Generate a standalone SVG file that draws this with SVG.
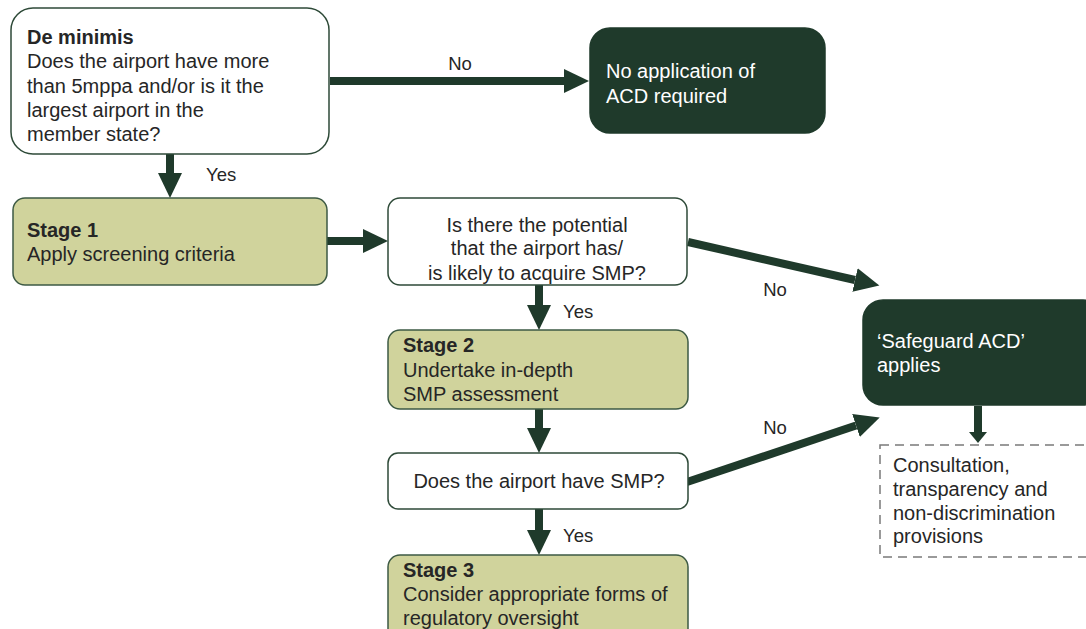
<svg xmlns="http://www.w3.org/2000/svg" width="1086" height="629" viewBox="0 0 1086 629">
<defs>
<style>
text{font-family:"Liberation Sans",Arial,sans-serif;font-size:20px;fill:#262626}
.b{font-weight:bold}
.w{fill:#ffffff}
.q{fill:#ffffff;stroke:#2e4a38;stroke-width:1.5}
.s{fill:#d0d39c;stroke:#3d5a44;stroke-width:1.5}
.d{fill:#1f3a2b;stroke:#1f3a2b;stroke-width:1.5}
.dash{fill:#ffffff;stroke:#7a7a7a;stroke-width:1.5;stroke-dasharray:9 6}
.c{fill:none;stroke:#1f3a2b;stroke-width:8}
.c2{fill:none;stroke:#1f3a2b;stroke-width:8}
.lbl{font-size:18.5px}
</style>
<marker id="ah" markerUnits="userSpaceOnUse" markerWidth="26" markerHeight="26" refX="0" refY="12" orient="auto" viewBox="0 0 26 24">
<path d="M0,0 L25,12 L0,24 z" fill="#1f3a2b"/>
</marker>
<marker id="ahs" markerUnits="userSpaceOnUse" markerWidth="12" markerHeight="20" refX="0" refY="9" orient="auto" viewBox="0 0 12 18">
<path d="M0,0 L11,9 L0,18 z" fill="#1f3a2b"/>
</marker>
</defs>
<rect width="1086" height="629" fill="#ffffff"/>

<g id="connectors">
<path class="c" d="M330,81 L564,81" marker-end="url(#ah)"/>
<path class="c" d="M170,154 L170,173" marker-end="url(#ah)"/>
<path class="c" d="M327,241 L363,241" marker-end="url(#ah)"/>
<path class="c" d="M539,285 L539,305" marker-end="url(#ah)"/>
<path class="c" d="M539,409 L539,428" marker-end="url(#ah)"/>
<path class="c" d="M539,509 L539,530" marker-end="url(#ah)"/>
<path class="c" d="M688,242 L855,280" marker-end="url(#ah)"/>
<path class="c" d="M687,482 L856,425.5" marker-end="url(#ah)"/>
<path class="c2" d="M978,406 L978,432" marker-end="url(#ahs)"/>
<text class="lbl" x="460" y="70" text-anchor="middle">No</text>
<text class="lbl" x="206" y="181">Yes</text>
<text class="lbl" x="775" y="296" text-anchor="middle">No</text>
<text class="lbl" x="563" y="318">Yes</text>
<text class="lbl" x="775" y="434" text-anchor="middle">No</text>
<text class="lbl" x="563" y="542">Yes</text>
</g>

<g id="de-minimis">
<rect class="q" x="11" y="8" width="318" height="146" rx="22"/>
<text class="b" x="27" y="44">De minimis</text>
<text x="27" y="68">Does the airport have more</text>
<text x="27" y="93">than 5mppa and/or is it the</text>
<text x="27" y="117">largest airport in the</text>
<text x="27" y="141">member state?</text>
</g>

<g id="no-application">
<rect class="d" x="590" y="28" width="235" height="105" rx="20"/>
<text class="w" x="606" y="78">No application of</text>
<text class="w" x="606" y="103">ACD required</text>
</g>

<g id="stage1">
<rect class="s" x="13" y="198" width="314" height="87" rx="12"/>
<text class="b" x="27" y="237">Stage 1</text>
<text x="27" y="261">Apply screening criteria</text>
</g>

<g id="q-potential">
<rect class="q" x="388" y="198" width="299" height="87" rx="12"/>
<text x="537" y="232" text-anchor="middle">Is there the potential</text>
<text x="537" y="255" text-anchor="middle">that the airport has/</text>
<text x="537" y="280" text-anchor="middle">is likely to acquire SMP?</text>
</g>

<g id="stage2">
<rect class="s" x="388" y="330" width="300" height="79" rx="12"/>
<text class="b" x="403" y="352">Stage 2</text>
<text x="403" y="377">Undertake in-depth</text>
<text x="403" y="401">SMP assessment</text>
</g>

<g id="q-smp">
<rect class="q" x="388" y="453" width="300" height="56" rx="10"/>
<text x="539" y="488" text-anchor="middle">Does the airport have SMP?</text>
</g>

<g id="stage3">
<rect class="s" x="388" y="555" width="300" height="90" rx="12"/>
<text class="b" x="403" y="577">Stage 3</text>
<text x="403" y="601">Consider appropriate forms of</text>
<text x="403" y="625">regulatory oversight</text>
</g>

<g id="safeguard">
<rect class="d" x="863" y="300" width="240" height="105" rx="20"/>
<text class="w" x="877" y="348">‘Safeguard ACD’</text>
<text class="w" x="877" y="372">applies</text>
</g>

<g id="consultation">
<rect class="dash" x="880" y="445" width="220" height="112"/>
<text x="893" y="472">Consultation,</text>
<text x="893" y="496">transparency and</text>
<text x="893" y="520">non-discrimination</text>
<text x="893" y="543">provisions</text>
</g>
</svg>
